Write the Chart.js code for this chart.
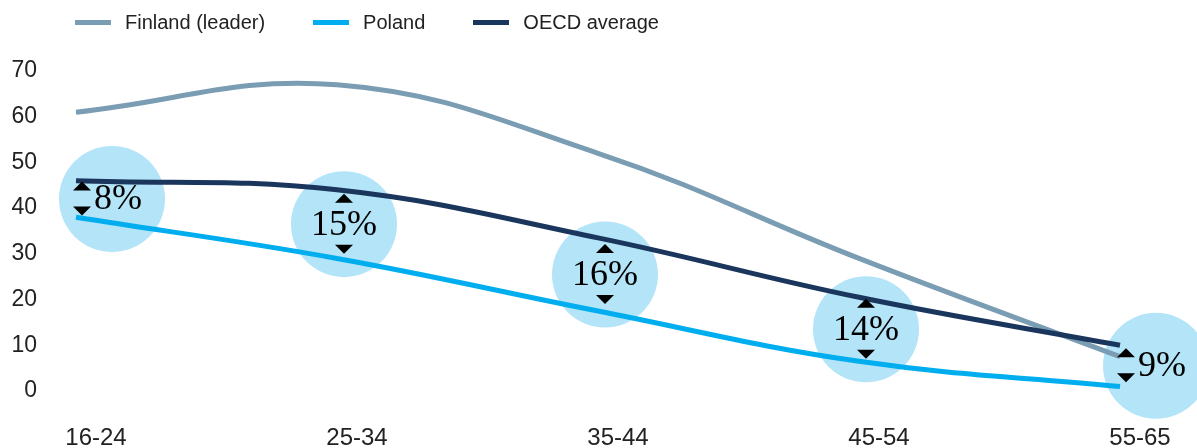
<!DOCTYPE html>
<html>
<head>
<meta charset="utf-8">
<script src="https://cdn.jsdelivr.net/npm/chart.js@4/dist/chart.umd.min.js"></script>
<style>
  html, body { margin: 0; padding: 0; background: #fff; }
  #wrap { position: relative; width: 1197px; height: 448px; overflow: hidden; }
  #chart { display: block; }
  #legend { position: absolute; left: 75px; top: 11px; display: flex; align-items: center;
            font-family: 'Liberation Sans', Arial, sans-serif; font-size: 20px; color: #222; }
  .item { display: flex; align-items: center; margin-right: 48px; }
  .swatch { width: 36px; height: 5px; margin-right: 14px; }
</style>
</head>
<body>
<div id="wrap">
  <canvas id="chart" width="1197" height="448"></canvas>
  <div id="legend"></div>
</div>
<script>
// Age groups on the horizontal axis
const categories = ['16-24', '25-34', '35-44', '45-54', '55-65'];

// Share of adults at the given level, by age group (%)
const finland = [61, 67, 52, 29, 7.5];
const poland = [38, 29, 17.5, 6.5, 1];
const oecd = [46, 44, 33.5, 20.5, 10];

// Vertical axis range
const yMin = 0;
const yMax = 70;
const yStep = 10;

const seriesNames = ['Finland (leader)', 'Poland', 'OECD average'];
const seriesColors = ['#7a9db3', '#00aeef', '#1b365d'];

const SANS = "'Liberation Sans', Arial, sans-serif";
const SERIF = "'Liberation Serif', 'Times New Roman', serif";

// Gap bubbles: circle between the OECD and Poland lines with the gap in points
const gapBubbles = {
  id: 'gapBubbles',
  layout(chart, i) {
    const x = chart.scales.x, y = chart.scales.y;
    const px = x.getPixelForValue(i);
    const gap = Math.round(oecd[i] - poland[i]);
    const mid = (oecd[i] + poland[i]) / 2;
    const side = gap < 10;
    return { px, cy: y.getPixelForValue(mid), cx: side ? px + 36 : px + 7, gap, side };
  },
  beforeDatasetsDraw(chart) {
    const ctx = chart.ctx;
    ctx.save();
    ctx.fillStyle = '#b3e4f8';
    categories.forEach((_, i) => {
      const b = this.layout(chart, i);
      ctx.beginPath();
      ctx.arc(b.cx, b.cy, 53, 0, Math.PI * 2);
      ctx.fill();
    });
    ctx.restore();
  },
  afterDatasetsDraw(chart) {
    const ctx = chart.ctx;
    const tri = (x, y, up) => {
      ctx.beginPath();
      if (up) { ctx.moveTo(x - 9, y + 4.5); ctx.lineTo(x + 9, y + 4.5); ctx.lineTo(x, y - 4.5); }
      else { ctx.moveTo(x - 9, y - 4.5); ctx.lineTo(x + 9, y - 4.5); ctx.lineTo(x, y + 4.5); }
      ctx.closePath();
      ctx.fill();
    };
    ctx.save();
    ctx.fillStyle = '#000';
    ctx.font = '36px ' + SERIF;
    ctx.textBaseline = 'middle';
    categories.forEach((_, i) => {
      const b = this.layout(chart, i);
      const label = b.gap + '%';
      if (b.side) {
        tri(b.px + 6, b.cy - 13, true);
        tri(b.px + 6, b.cy + 12, false);
        ctx.textAlign = 'left';
        ctx.fillText(label, b.px + 18, b.cy + 1);
      } else {
        tri(b.cx, b.cy - 26, true);
        tri(b.cx, b.cy + 25, false);
        ctx.textAlign = 'center';
        ctx.fillText(label, b.cx, b.cy + 1);
      }
    });
    ctx.restore();
  }
};

const seriesData = [finland, poland, oecd];
const datasets = seriesData.map((d, k) => ({
  label: seriesNames[k],
  data: d,
  borderColor: seriesColors[k],
  backgroundColor: seriesColors[k],
  borderWidth: 5,
  pointRadius: 0,
  tension: 0.4,
  fill: false
}));
// Draw OECD above Poland above Finland
datasets[0].order = 3;
datasets[1].order = 2;
datasets[2].order = 1;

// Legend built from the series
const legend = document.getElementById('legend');
seriesNames.forEach((name, k) => {
  const it = document.createElement('div');
  it.className = 'item';
  const sw = document.createElement('div');
  sw.className = 'swatch';
  sw.style.background = seriesColors[k];
  const tx = document.createElement('span');
  tx.textContent = name;
  it.appendChild(sw);
  it.appendChild(tx);
  legend.appendChild(it);
});

new Chart(document.getElementById('chart'), {
  type: 'line',
  data: { labels: categories, datasets },
  plugins: [gapBubbles],
  options: {
    responsive: false,
    animation: false,
    layout: { padding: { left: 11, right: 77, top: 71, bottom: 0 } },
    plugins: { legend: { display: false }, tooltip: { enabled: false } },
    scales: {
      x: {
        type: 'category',
        offset: false,
        grid: { display: false, drawTicks: false },
        border: { display: false },
        ticks: {
          color: '#222',
          font: { family: SANS, size: 24, lineHeight: 1 },
          padding: 35,
          labelOffset: 20,
          maxRotation: 0,
          autoSkip: false
        },
        afterFit(scale) { scale.height = 57; }
      },
      y: {
        min: yMin,
        max: yMax,
        grid: { display: false, drawTicks: false },
        border: { display: false },
        ticks: {
          stepSize: yStep,
          color: '#222',
          font: { family: SANS, size: 23 },
          padding: 39
        },
        afterFit(scale) { scale.width = 65; }
      }
    }
  }
});
</script>
</body>
</html>
